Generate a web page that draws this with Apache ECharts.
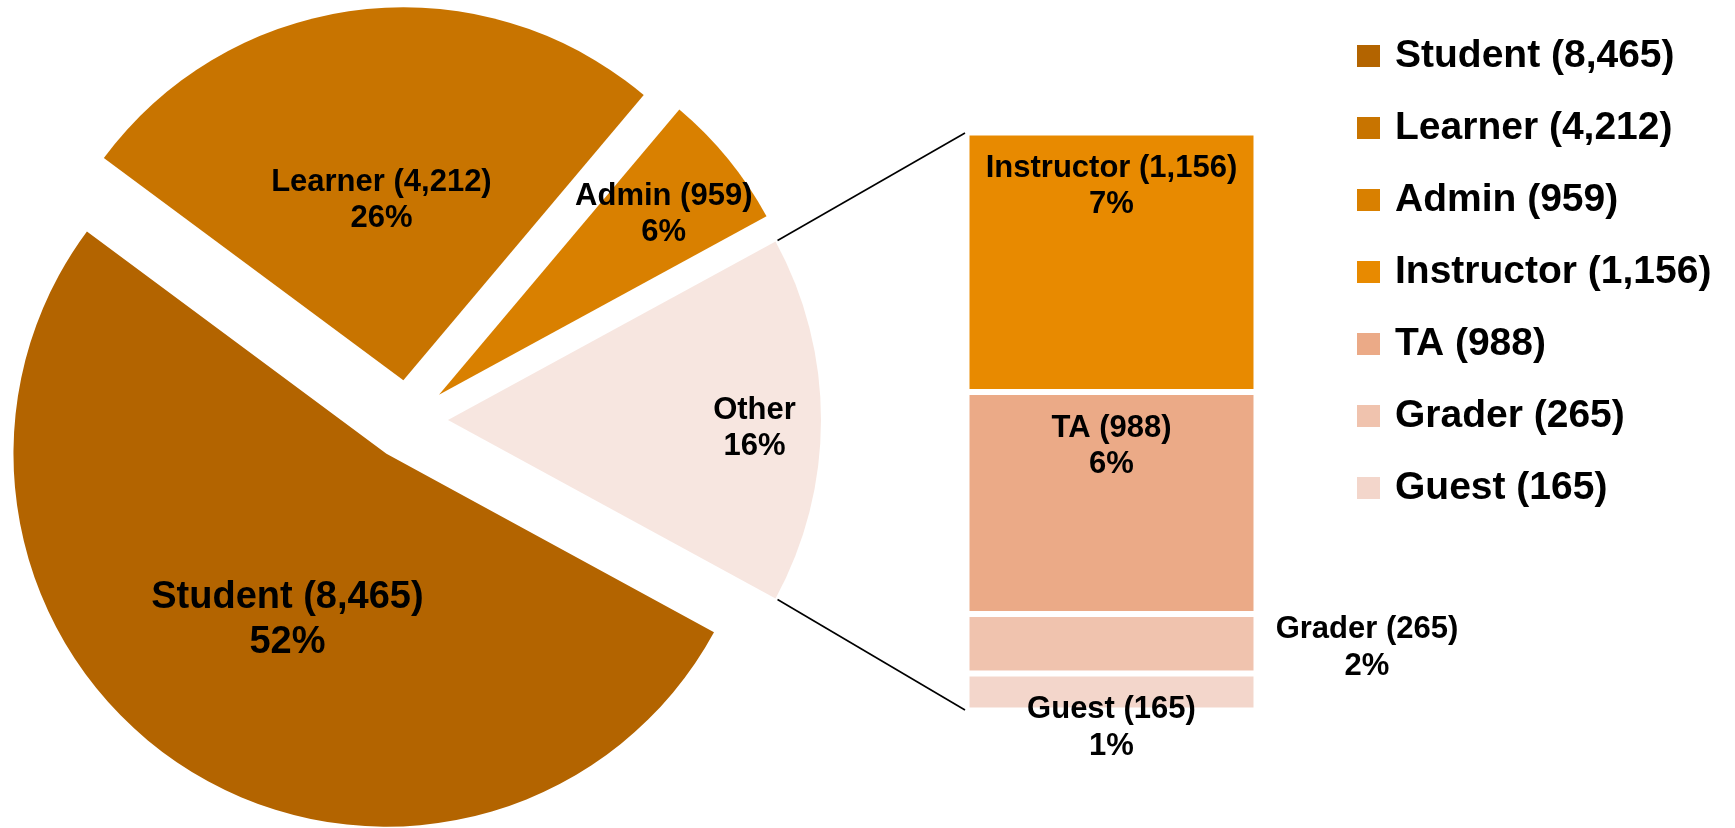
<!DOCTYPE html>
<html><head><meta charset="utf-8">
<script src="https://cdn.jsdelivr.net/npm/echarts@6/dist/echarts.min.js"></script>
<style>html,body{margin:0;padding:0;background:#fff}#c{width:1735px;height:828px}</style>
</head><body><div id="c"></div>
<script>
// ---- data ----
const pieNames = ['Student', 'Learner', 'Admin'];
const pieValues = [8465, 4212, 959];
const otherLabel = 'Other';
const otherNames = ['Instructor', 'TA', 'Grader', 'Guest'];
const otherValues = [1156, 988, 265, 165];
const legendNames = ['Student', 'Learner', 'Admin', 'Instructor', 'TA', 'Grader', 'Guest'];
const colorList = {
  Student: '#B36400', Learner: '#C87400', Admin: '#D98000', Other: '#F7E6E0',
  Instructor: '#E88A00', TA: '#EBAA87', Grader: '#F0C3AE', Guest: '#F3D6CB'
};

// ---- derived ----
const otherSum = otherValues.reduce((a, b) => a + b, 0);
const total = pieValues.reduce((a, b) => a + b, 0) + otherSum;
const countOf = {};
pieNames.forEach((n, i) => countOf[n] = pieValues[i]);
otherNames.forEach((n, i) => countOf[n] = otherValues[i]);
const fmt = v => v.toLocaleString('en-US');
const pct = v => Math.round(v / total * 100) + '%';
const FONT = "'Liberation Sans', Arial, Helvetica, sans-serif";

// layout
const PIE_CX = 408, PIE_CY = 420, PIE_R = 373, PIE_OFF = 40;
const GRID = { left: 966.5, top: 132.5, width: 290, height: 578 };
// label nudges (pixels) for the pie labels, by slice index
const PIE_LABEL_SHIFT = [[3, 7], [0, 8], [78, -60], [117, 8]];

const pieData = pieNames.map((n, i) => ({
  name: n, value: pieValues[i], selected: true,
  itemStyle: { color: colorList[n] }
}));
pieData.push({ name: otherLabel, value: otherSum, selected: true, itemStyle: { color: colorList.Other } });
pieData[0].label = { fontSize: 38, lineHeight: 45 };
pieData[2].selectedOffset = 46;

const halfAngle = otherSum / total * Math.PI;   // radians
const startDeg = -otherSum / total * 180;

const barSeries = otherNames.map((n, i) => {
  const v = otherValues[i];
  const text = n + ' (' + fmt(v) + ')\n' + pct(v);
  let label = {
    show: true, position: 'insideTop', distance: 18, color: '#000',
    fontSize: 31, fontWeight: 'bold', fontFamily: FONT, lineHeight: 36,
    formatter: () => text
  };
  if (n === 'Grader') {
    label = Object.assign(label, {
      position: 'right', distance: 18, offset: [0, 4],
      formatter: () => '{a|' + n + ' (' + fmt(v) + ')}\n{a|' + pct(v) + '}',
      rich: { a: { width: 185, align: 'center', fontSize: 31, fontWeight: 'bold', fontFamily: FONT, lineHeight: 37, color: '#000' } }
    });
  } else if (n === 'Guest') {
    label = Object.assign(label, { position: 'inside', offset: [0, 36], lineHeight: 37 });
  }
  return {
    type: 'bar', name: n, stack: 'other', barWidth: '100%',
    data: [v],
    itemStyle: { color: colorList[n], borderColor: '#fff', borderWidth: 3 },
    label: label,
    emphasis: { disabled: true }
  };
});

const cosA = Math.cos(halfAngle), sinA = Math.sin(halfAngle);
const apexX = PIE_CX + PIE_OFF;
const p1 = [apexX + PIE_R * cosA + 2, PIE_CY - PIE_R * sinA - 1];
const p2 = [apexX + PIE_R * cosA + 2, PIE_CY + PIE_R * sinA + 1];
const barLeft = GRID.left + 1.5, barTop = GRID.top + 1.5, barBottom = GRID.top + GRID.height - 1.5;

const chart = echarts.init(document.getElementById('c'), null, { renderer: 'canvas' });
chart.setOption({
  animation: false,
  backgroundColor: '#fff',
  legend: {
    orient: 'vertical', left: 1352, top: 31,
    itemWidth: 23, itemHeight: 22, itemGap: 32, icon: 'rect',
    selectedMode: false,
    data: legendNames,
    itemStyle: { borderWidth: 0 },
    formatter: n => n + ' (' + fmt(countOf[n]) + ')',
    textStyle: { fontSize: 39, fontWeight: 'bold', fontFamily: FONT, color: '#000', lineHeight: 40, padding: [0, 0, 0, 10] }
  },
  grid: GRID,
  xAxis: { type: 'category', data: [otherLabel], show: false },
  yAxis: { type: 'value', inverse: true, min: 0, max: otherSum, show: false },
  graphic: [
    { type: 'line', shape: { x1: p1[0], y1: p1[1], x2: barLeft - 3, y2: barTop - 1 }, style: { stroke: '#000', lineWidth: 1.6 }, z: 10 },
    { type: 'line', shape: { x1: p2[0], y1: p2[1], x2: barLeft - 3, y2: barBottom + 1 }, style: { stroke: '#000', lineWidth: 1.6 }, z: 10 }
  ],
  series: [{
    type: 'pie', center: [PIE_CX, PIE_CY], radius: [0, PIE_R],
    startAngle: startDeg, clockwise: true,
    selectedMode: 'multiple', selectedOffset: PIE_OFF,
    avoidLabelOverlap: false,
    itemStyle: { borderWidth: 0 },
    select: { itemStyle: { borderWidth: 0 } },
    emphasis: { disabled: true },
    label: {
      show: true, position: 'inside', color: '#000', fontSize: 31, fontWeight: 'bold',
      fontFamily: FONT, lineHeight: 36,
      formatter: p => p.name === otherLabel ? p.name + '\n' + pct(p.value)
        : p.name + ' (' + fmt(p.value) + ')\n' + pct(p.value)
    },
    labelLayout: p => ({ dx: PIE_LABEL_SHIFT[p.dataIndex][0], dy: PIE_LABEL_SHIFT[p.dataIndex][1] }),
    labelLine: { show: false },
    data: pieData
  }].concat(barSeries)
});
</script>
</body></html>
